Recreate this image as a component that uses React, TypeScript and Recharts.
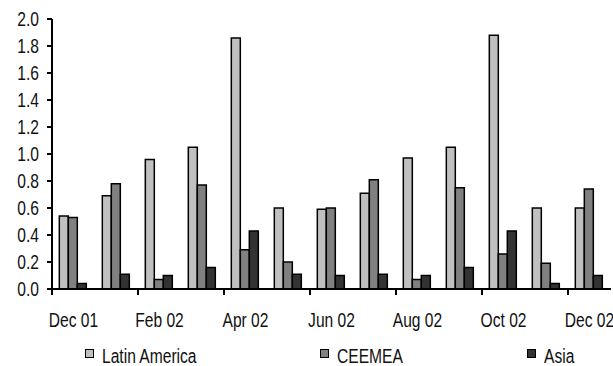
import React from 'react';
import { BarChart, Bar, XAxis, YAxis, Legend } from 'recharts';

const months = ['Dec 01', 'Jan 02', 'Feb 02', 'Mar 02', 'Apr 02', 'May 02', 'Jun 02', 'Jul 02', 'Aug 02', 'Sep 02', 'Oct 02', 'Nov 02', 'Dec 02'];
const latinAmerica = [0.54, 0.69, 0.96, 1.05, 1.86, 0.6, 0.59, 0.71, 0.97, 1.05, 1.88, 0.6, 0.6];
const ceemea = [0.53, 0.78, 0.07, 0.77, 0.29, 0.2, 0.6, 0.81, 0.07, 0.75, 0.26, 0.19, 0.74];
const asia = [0.04, 0.11, 0.1, 0.16, 0.43, 0.11, 0.1, 0.11, 0.1, 0.16, 0.43, 0.04, 0.1];
const yTicks = [0, 0.2, 0.4, 0.6, 0.8, 1.0, 1.2, 1.4, 1.6, 1.8, 2.0];

const series = [
    { key: 'latin', name: 'Latin America', color: '#c0c0c0' },
    { key: 'ceemea', name: 'CEEMEA', color: '#808080' },
    { key: 'asia', name: 'Asia', color: '#333333' },
];

const data = months.map((m, i) => ({
    month: m,
    latin: latinAmerica[i],
    ceemea: ceemea[i],
    asia: asia[i],
}));

const W = 613;
const H = 366;
const M = { top: 19, right: 2, left: 0, bottom: 0 };
const Y_AXIS_W = 52;
const BAND = (W - M.left - M.right - Y_AXIS_W) / months.length;
const FONT = '"Liberation Sans", Arial, sans-serif';
const FS = 20;
const NARROW = 0.78; // source font is a condensed Arial
const legendLeft = [85, 320, 527];

const MonthTick = (props: any) => {
    const { x, y, payload, index } = props;
    if (index % 2 !== 0) return null;
    const tx = x - BAND / 2;
    return (
        <g>
            <line x1={tx} y1={y} x2={tx} y2={y + 6} stroke="#000" strokeWidth={2} />
            <text transform={`translate(${x},${y + 38}) scale(${NARROW},1)`} textAnchor="middle" fill="#111" fontSize={FS} fontFamily={FONT}>
                {payload.value}
            </text>
        </g>
    );
};

const ValueTick = (props: any) => {
    const { x, y, payload } = props;
    return (
        <text transform={`translate(${x},${y + 7}) scale(${NARROW},1)`} textAnchor="end" fill="#111" fontSize={FS} fontFamily={FONT}>
            {Number(payload.value).toFixed(1)}
        </text>
    );
};

const LegendBox = () => (
    <div style={{ position: 'relative', width: W, height: 30, fontFamily: FONT, fontSize: FS, color: '#111' }}>
        {series.map((s, i) => (
            <div key={s.key} style={{ position: 'absolute', left: legendLeft[i], top: 4, height: 26, whiteSpace: 'nowrap' }}>
                <span style={{ position: 'absolute', left: 0, top: 9, width: 7, height: 7, background: s.color, border: '1.5px solid #000' }} />
                <span style={{ position: 'absolute', left: 17, top: 3, lineHeight: '26px', transform: `scaleX(${NARROW})`, transformOrigin: 'left center' }}>{s.name}</span>
            </div>
        ))}
    </div>
);

export default function App() {
    return (
        <div style={{ position: 'absolute', left: 0, top: 0, width: W, height: H, background: '#fff' }}>
            <BarChart width={W} height={H} data={data} margin={M} barGap={0} barCategoryGap="17%">
                <XAxis
                    dataKey="month"
                    interval={0}
                    height={47}
                    tickSize={0}
                    tickMargin={0}
                    tick={<MonthTick />}
                    axisLine={{ stroke: '#000', strokeWidth: 2 }}
                    tickLine={false}
                />
                <YAxis
                    domain={[0, 2]}
                    ticks={yTicks}
                    width={Y_AXIS_W}
                    tick={<ValueTick />}
                    axisLine={{ stroke: '#000', strokeWidth: 2 }}
                    tickLine={{ stroke: '#000', strokeWidth: 2 }}
                    tickSize={5}
                    tickMargin={8}
                    interval={0}
                />
                <Legend verticalAlign="bottom" content={<LegendBox />} wrapperStyle={{ left: 0, width: W, height: 30 }} />
                {series.map((s) => (
                    <Bar key={s.key} dataKey={s.key} name={s.name} fill={s.color} stroke="#000" strokeWidth={1.5} isAnimationActive={false} />
                ))}
            </BarChart>
        </div>
    );
}
